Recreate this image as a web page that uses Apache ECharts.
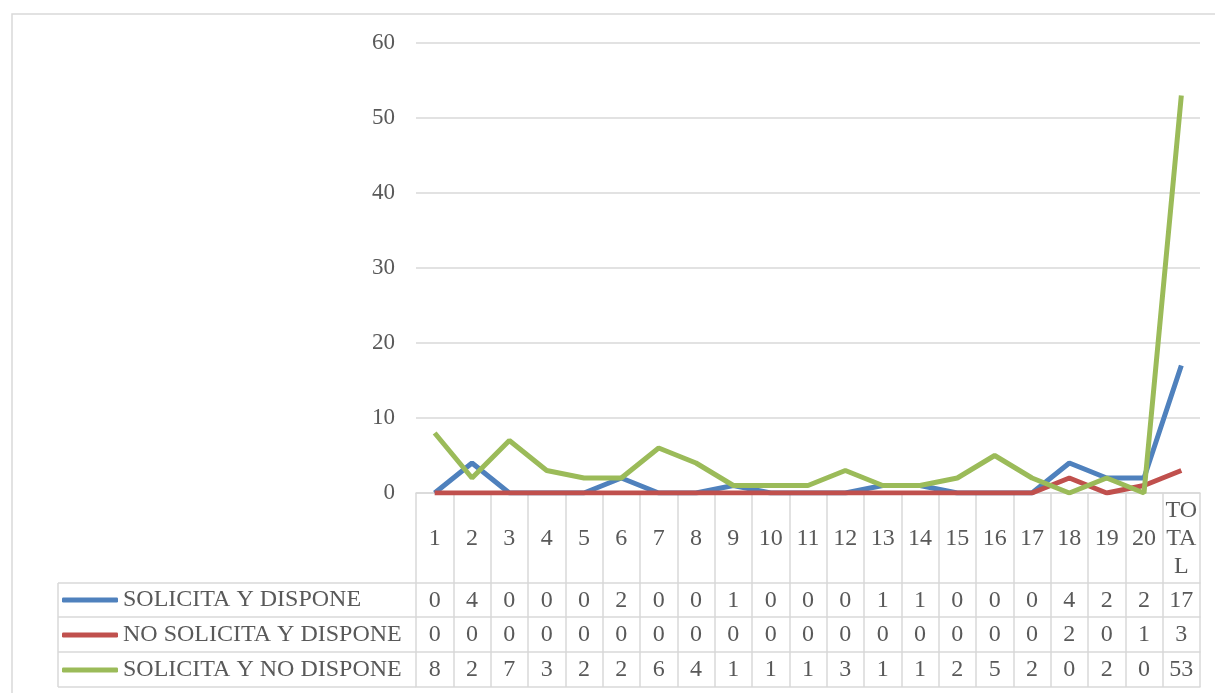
<!DOCTYPE html>
<html>
<head>
<meta charset="utf-8">
<script src="https://cdn.jsdelivr.net/npm/echarts@6/dist/echarts.min.js"></script>
<style>
  html, body { margin: 0; padding: 0; background: #fff; }
  #chart { width: 1215px; height: 693px; }
</style>
</head>
<body>
<div id="chart"></div>
<script>
var categorias = ["1","2","3","4","5","6","7","8","9","10","11","12","13","14","15","16","17","18","19","20","TOTAL"];
var solicitaDispone = [0,4,0,0,0,2,0,0,1,0,0,0,1,1,0,0,0,4,2,2,17];
var noSolicitaDispone = [0,0,0,0,0,0,0,0,0,0,0,0,0,0,0,0,0,2,0,1,3];
var solicitaNoDispone = [8,2,7,3,2,2,6,4,1,1,1,3,1,1,2,5,2,0,2,0,53];
var nombres = ["SOLICITA Y DISPONE", "NO SOLICITA Y DISPONE", "SOLICITA Y NO DISPONE"];
var colores = ["#4f81bd", "#c0504d", "#9bbb59"];

var fuente = "Liberation Serif";
var gris = "#595959";
var linea = "#d9d9d9";

//fila de la tabla de datos como eje x extra
function filaTabla(valores, offset, alto) {
  return {
    type: "category",
    gridIndex: 0,
    position: "bottom",
    offset: offset,
    data: categorias,
    axisLine: { show: true, lineStyle: { color: linea, width: 1.5 } },
    axisTick: { show: alto > 0, length: alto, lineStyle: { color: linea, width: 1.5 } },
    axisLabel: {
      show: valores != null,
      interval: 0,
      margin: 18,
      verticalAlign: "middle",
      color: gris,
      fontFamily: fuente,
      fontSize: 24,
      formatter: function (v, i) { return valores ? String(valores[i]) : ""; }
    },
    splitLine: { show: false }
  };
}

var chart = echarts.init(document.getElementById("chart"));
var option = {
  animation: false,
  color: colores,
  grid: { left: 416, right: 15, top: 43, bottom: 200, containLabel: false },
  legend: {
    orient: "vertical",
    left: 57,
    top: 583,
    itemGap: 11,
    itemWidth: 56,
    itemHeight: 5,
    icon: "roundRect",
    textStyle: { color: gris, fontFamily: fuente, fontSize: 24, lineHeight: 24 },
    data: nombres
  },
  xAxis: [
    {
      type: "category",
      data: categorias,
      axisLine: { show: true, lineStyle: { color: linea, width: 1.5 } },
      axisTick: { show: true, length: 90, lineStyle: { color: linea, width: 1.5 } },
      axisLabel: {
        interval: 0,
        margin: 46,
        verticalAlign: "middle",
        lineHeight: 28,
        color: gris,
        fontFamily: fuente,
        fontSize: 24,
        formatter: function (v) { return v == "TOTAL" ? "TO\nTA\nL" : v; }
      }
    },
    filaTabla(solicitaDispone, 90, 34),
    filaTabla(noSolicitaDispone, 124, 35),
    filaTabla(solicitaNoDispone, 159, 35),
    filaTabla(null, 194, 0)
  ],
  yAxis: {
    type: "value",
    min: 0,
    max: 60,
    interval: 10,
    axisLine: { show: false },
    axisTick: { show: false },
    axisLabel: { margin: 21, color: gris, fontFamily: fuente, fontSize: 23 },
    splitLine: { lineStyle: { color: linea, width: 1.5 } }
  },
  series: [
    { name: nombres[0], type: "line", data: solicitaDispone, showSymbol: false, lineStyle: { width: 5 } },
    { name: nombres[1], type: "line", data: noSolicitaDispone, showSymbol: false, lineStyle: { width: 5 } },
    { name: nombres[2], type: "line", data: solicitaNoDispone, showSymbol: false, lineStyle: { width: 5 } }
  ],
  graphic: [
    // borde del area del grafico
    { type: "rect", shape: { x: 12, y: 14, width: 1220, height: 700 }, style: { fill: null, stroke: linea, lineWidth: 1.5 }, silent: true },
    // columna de la leyenda de la tabla
    { type: "line", shape: { x1: 58, y1: 583, x2: 416, y2: 583 }, style: { stroke: linea, lineWidth: 1.5 } },
    { type: "line", shape: { x1: 58, y1: 617, x2: 416, y2: 617 }, style: { stroke: linea, lineWidth: 1.5 } },
    { type: "line", shape: { x1: 58, y1: 652, x2: 416, y2: 652 }, style: { stroke: linea, lineWidth: 1.5 } },
    { type: "line", shape: { x1: 58, y1: 687, x2: 416, y2: 687 }, style: { stroke: linea, lineWidth: 1.5 } },
    { type: "line", shape: { x1: 58, y1: 583, x2: 58, y2: 687 }, style: { stroke: linea, lineWidth: 1.5 } }
  ]
};
chart.setOption(option);
window.addEventListener("resize", function () { chart.resize(); });
</script>
</body>
</html>
